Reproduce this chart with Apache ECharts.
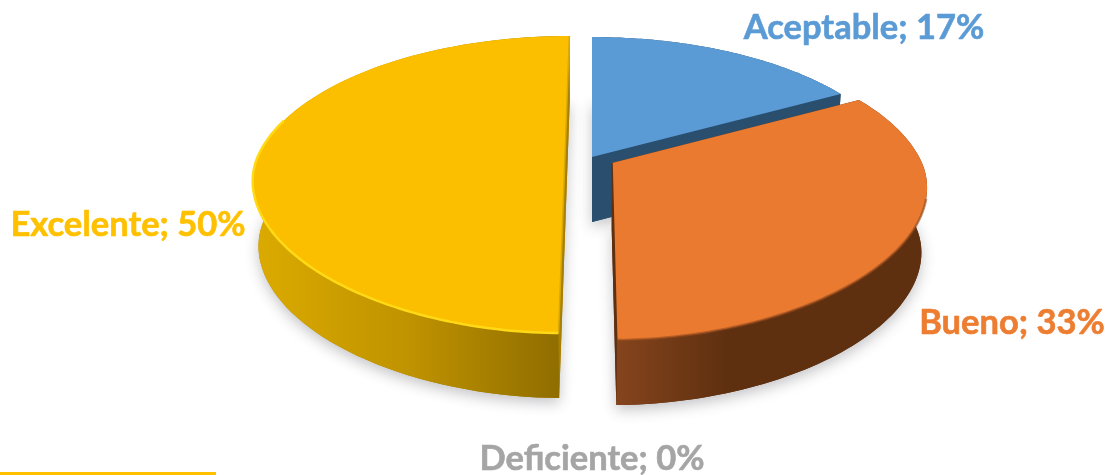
<!DOCTYPE html>
<html>
<head>
<meta charset="utf-8">
<style>
  html, body { margin: 0; background: #fff; }
  #chart { width: 1107px; height: 475px; }
</style>
<script src="https://cdn.jsdelivr.net/npm/echarts@6/dist/echarts.min.js"></script>
</head>
<body>
<div id="chart"></div>
<script>
const categories = ['Deficiente', 'Aceptable', 'Bueno', 'Excelente'];
const percents = [0, 17, 33, 50];

// vanishing x, perspective strength, radii, wall height, bottom face shrink
const vx = 592, persp = 0.192, rx = 310, ry = 143, depth = 65, shrink = 0.983;

const sliceLooks = [
  { ox: 0, ay: 0, rx: rx, color: '#a5a5a5', wall: '#a5a5a5', text: '#a5a5a5', label: [592, 459] },
  { ox: 0, ay: 157, rx: rx, color: '#5b9bd5', wall: '#2a4e6e', text: '#5b9bd5', label: [864, 28] },
  {
    ox: 20, ay: 163, rx: rx, color: '#ea7a30', wall: '#5f3010', text: '#ed7d31', label: [1012, 323],
    wallStops: [[0, '#85441d'], [0.35, '#5f3010'], [1, '#5f3010']],
    rim: 'rgba(150,75,30,0.6)', rimFrom: 105, edge: '#5f3010'
  },
  {
    ox: -27, ay: 156, rx: 307, color: '#fbbf00', wall: '#a88000', text: '#ffc000', label: [128, 225],
    wallStops: [[0, '#dcab00'], [0.5, '#bf9200'], [1, '#8c6b00']],
    rim: '#ffd916', rimFrom: 180, edge: '#d9a900'
  }
];

const total = percents.reduce((a, b) => a + b, 0);

// the front half of the rim runs a little flatter than a true circle
function discPoint(deg) {
  const a = deg * Math.PI / 180;
  let u = Math.sin(a), v = -Math.cos(a);
  if (v > 0) {
    u = Math.sign(u) * Math.pow(Math.abs(u), 1.06);
    v = Math.pow(v, 1.06);
  }
  return [u, v];
}

function topPoint(look, deg) {
  const [u, v] = discPoint(deg);
  const s = 1 / (1 - persp * v);
  return [vx + (look.ox + look.rx * u) * s, look.ay + ry * v * s];
}

function bottomPoint(look, deg) {
  const [u, v] = discPoint(deg);
  const s = 1 / (1 - persp * v);
  return [vx + (look.ox + look.rx * u) * s * shrink, look.ay + depth + ry * v * s];
}

function apexTop(look) {
  return [vx + look.ox, look.ay];
}

function apexBottom(look) {
  return [vx + look.ox * shrink, look.ay + depth];
}

function arc(fn, look, from, to) {
  const pts = [];
  const n = 90;
  for (let i = 0; i <= n; i++) {
    pts.push(fn(look, from + (to - from) * i / n));
  }
  return pts;
}

function renderSlice(params, api) {
  const i = api.value(0);
  const look = sliceLooks[i];
  const children = [];
  const from = percents.slice(0, i).reduce((a, b) => a + b, 0) / total * 360;
  const to = from + percents[i] / total * 360;

  if (to > from) {
    const topRim = arc(topPoint, look, from, to);
    const botRim = arc(bottomPoint, look, from, to);
    const wallFill = look.wallStops
      ? new echarts.graphic.LinearGradient(0, 0, 1, 0, look.wallStops.map(s => ({ offset: s[0], color: s[1] })))
      : look.wall;

    // bottom face only carries the soft drop shadow
    children.push({
      type: 'polygon',
      shape: { points: [apexBottom(look)].concat(botRim) },
      style: {
        fill: look.wall,
        shadowBlur: 14,
        shadowOffsetY: 5,
        shadowColor: 'rgba(60,60,70,0.3)'
      }
    });
    children.push({
      type: 'polygon',
      shape: { points: topRim.concat(botRim.slice().reverse()) },
      style: { fill: wallFill }
    });
    [from, to].forEach((deg) => {
      children.push({
        type: 'polygon',
        shape: { points: [apexTop(look), topPoint(look, deg), bottomPoint(look, deg), apexBottom(look)] },
        style: { fill: look.wall }
      });
    });
    children.push({
      type: 'polygon',
      shape: { points: [apexTop(look)].concat(topRim) },
      style: { fill: look.color }
    });
    if (look.rim) {
      const front = arc(topPoint, look, Math.max(from, look.rimFrom), Math.min(to, 285));
      children.push({
        type: 'polyline',
        shape: { points: front },
        style: { fill: null, stroke: look.rim, lineWidth: 2.5 }
      });
      children.push({
        type: 'polyline',
        shape: { points: [topPoint(look, to === 360 ? 360 : 180), apexTop(look), topPoint(look, 180)] },
        style: { fill: null, stroke: look.edge, lineWidth: 1.5 }
      });
    }
  }

  children.push({
    type: 'text',
    z2: 10,
    style: {
      text: categories[i] + '; ' + percents[i] + '%',
      x: look.label[0],
      y: look.label[1],
      fill: look.text,
      stroke: look.text,
      lineWidth: 0.6,
      font: 'bold 34.5px Lato',
      align: 'center',
      verticalAlign: 'middle'
    }
  });

  return { type: 'group', children: children };
}

const chart = echarts.init(document.getElementById('chart'));
chart.setOption({
  animation: false,
  backgroundColor: '#ffffff',
  graphic: [
    {
      type: 'rect',
      silent: true,
      shape: { x: 0, y: 472, width: 216, height: 3 },
      style: { fill: '#ffc000' }
    }
  ],
  series: [
    {
      type: 'custom',
      coordinateSystem: 'none',
      silent: true,
      renderItem: renderSlice,
      data: categories.map((c, i) => [i])
    }
  ]
});
window.addEventListener('resize', () => chart.resize());
</script>
</body>
</html>
